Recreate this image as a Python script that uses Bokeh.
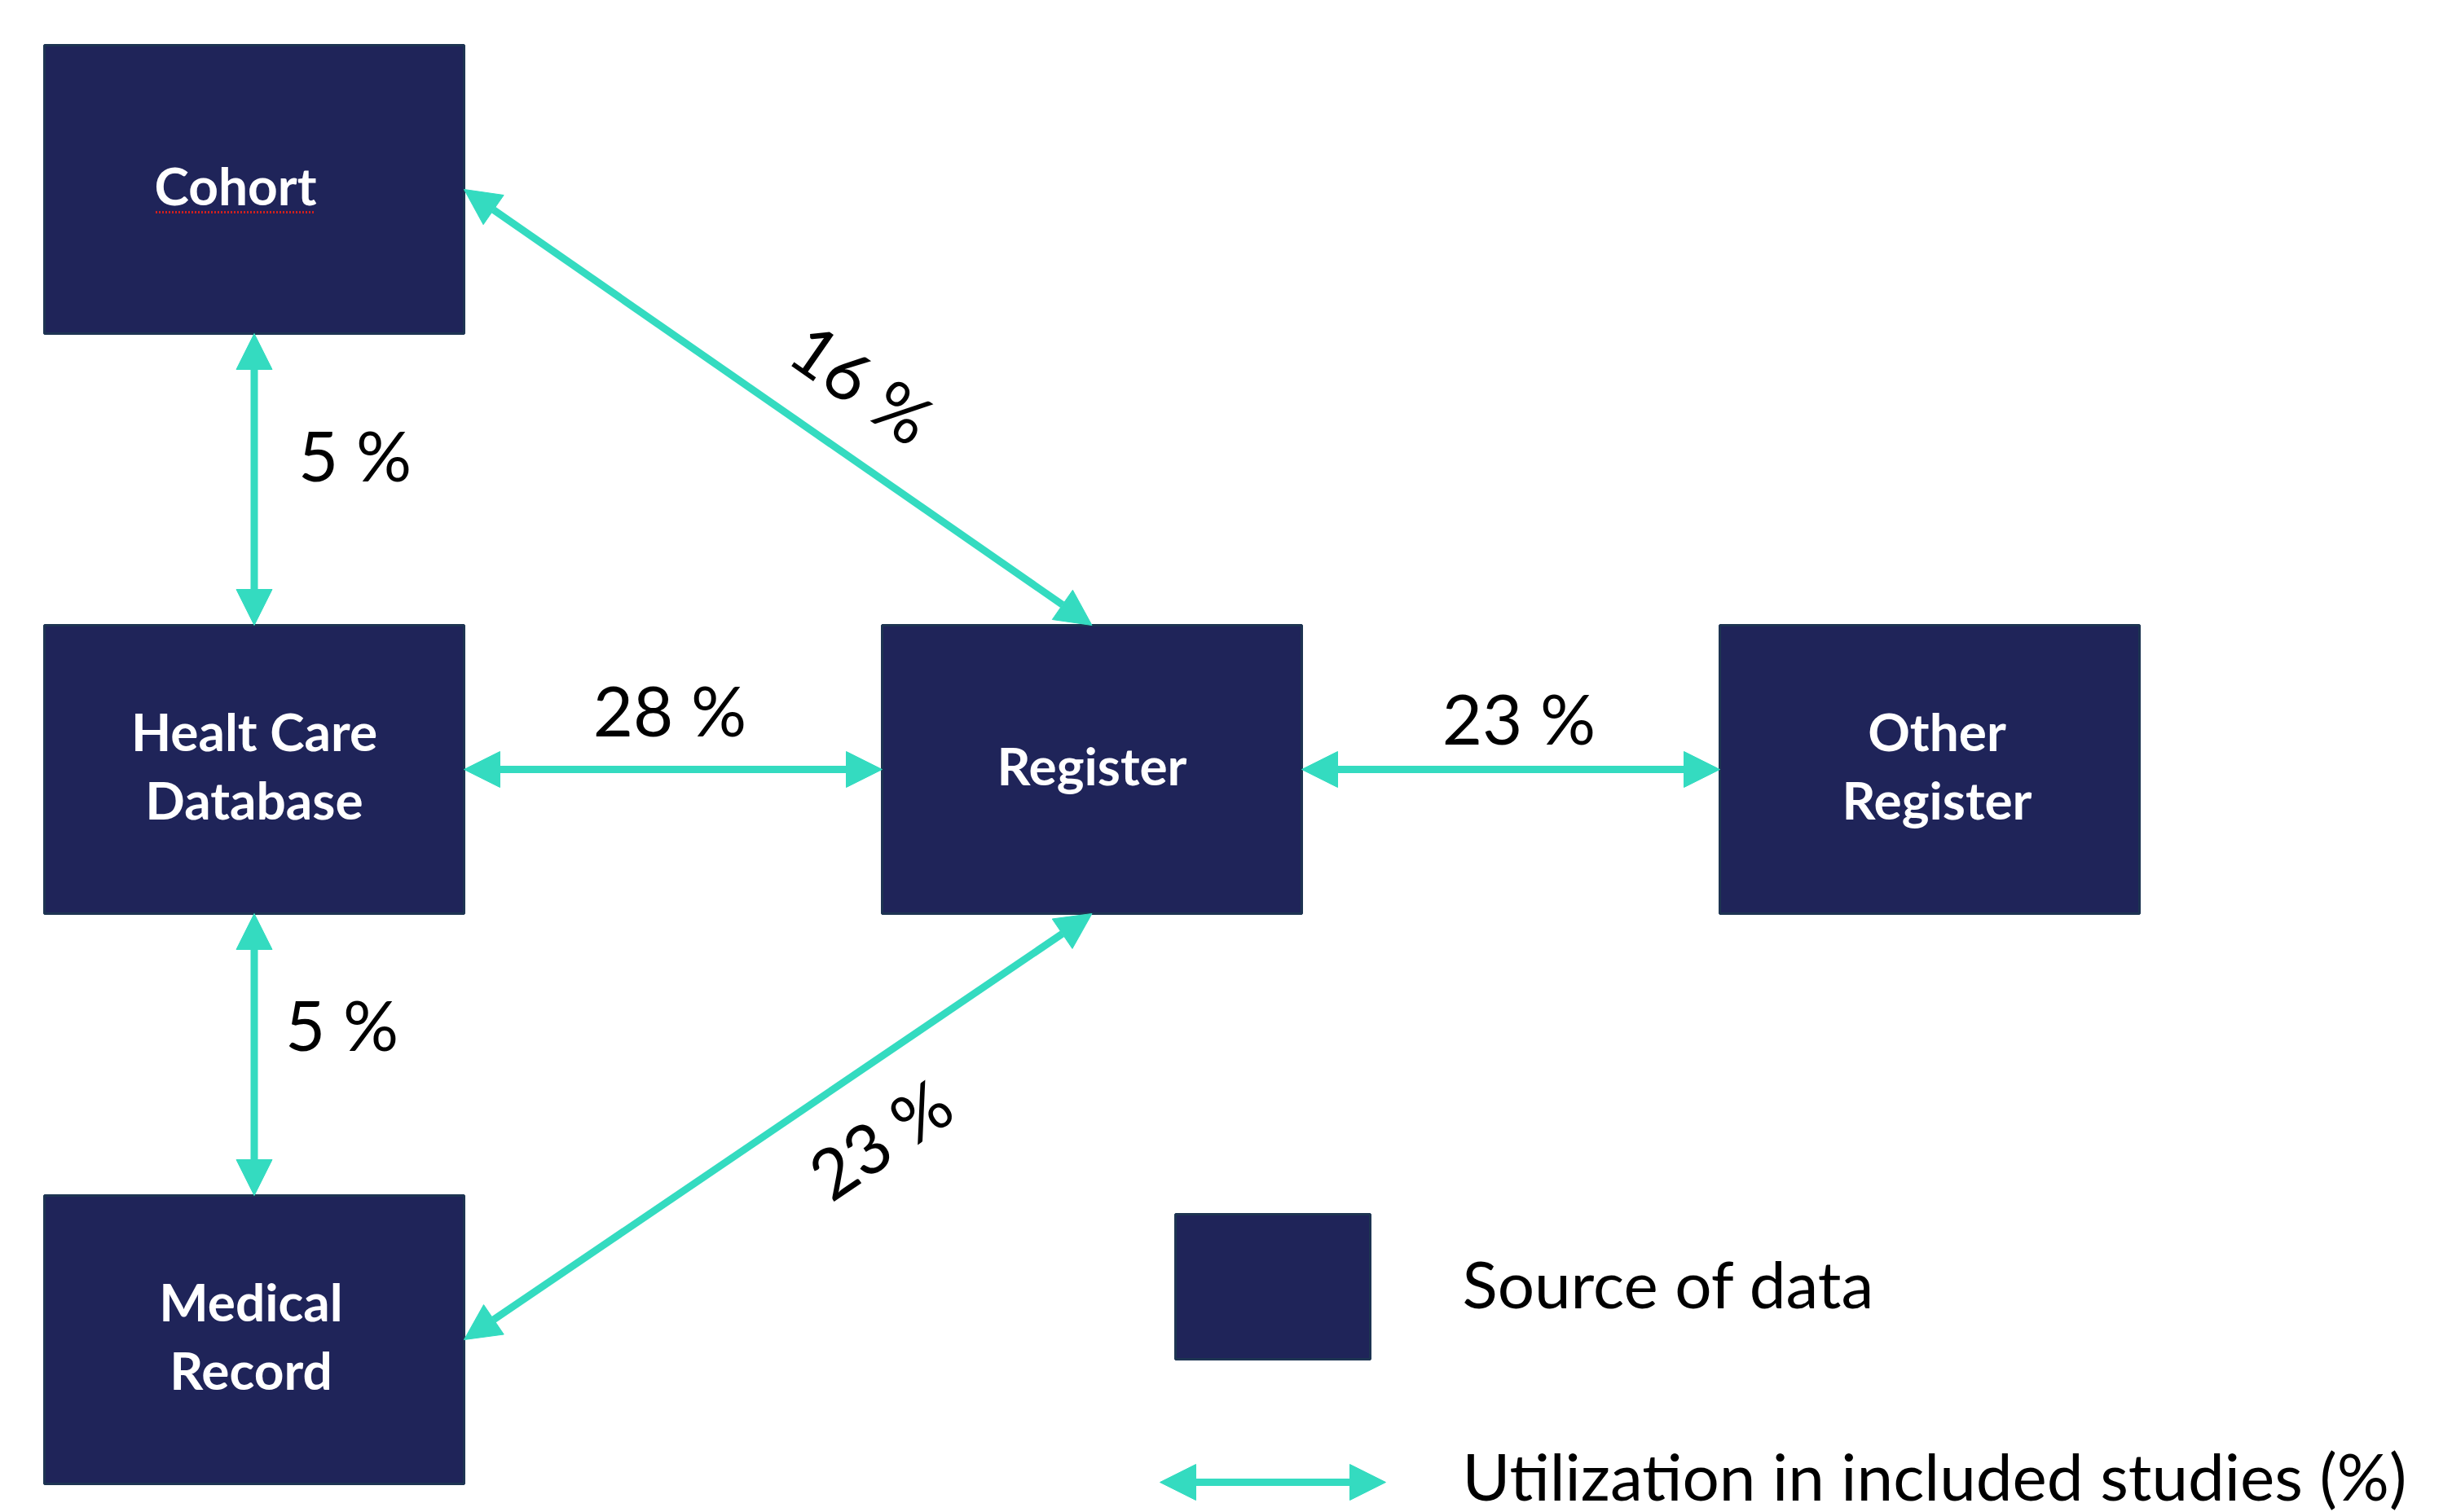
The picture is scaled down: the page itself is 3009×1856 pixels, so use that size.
import math
from bokeh.plotting import figure
from bokeh.models import Range1d, ColumnDataSource, Arrow, NormalHead
from bokeh.core.properties import value
from bokeh.embed import file_html
from bokeh.resources import INLINE

# ---------------- data ----------------
node_names = ["Cohort", "HCD", "Register", "Other", "Medical"]
node_labels = [["Cohort"], ["Healt Care", "Database"], ["Register"],
               ["Other", "Register"], ["Medical", "Record"]]
edge_from = ["Cohort", "Cohort", "HCD", "Register", "HCD", "Register"]
edge_to = ["HCD", "Register", "Register", "Other", "Medical", "Medical"]
edge_pct = [5, 16, 28, 23, 5, 23]
legend_labels = ["Source of data", "Utilization in included studies (%)"]

# ---------------- layout / style ----------------
BOX = "#1F2459"
BOX_EDGE = "#1D3452"
ARROW = "#34DBC0"
FONT = "Lato"

col_x = [311.5, 1339.5, 2367.5]
row_y = [232, 944, 1644]
box_w, box_h = 515, 354
node_cell = {"Cohort": (0, 0), "HCD": (0, 1), "Register": (1, 1),
             "Other": (2, 1), "Medical": (0, 2)}
label_dx = {"Cohort": -23, "HCD": 0, "Register": 0, "Other": 9, "Medical": -4}
edge_sides = [("b", "t"), ("r", "t"), ("r", "l"), ("r", "l"), ("b", "t"), ("b", "r")]
# label offsets from edge midpoint: dx, dy, align, rotate-with-line
edge_label = [(54, -31, "left", False), (104, -30, "center", True),
              (-4, -74, "center", False), (10, -64, "center", False),
              (38, -38, "left", False), (125, 14, "center", True)]


def center(n):
    c, r = node_cell[n]
    return col_x[c], row_y[r]


def anchor(n, side):
    cx, cy = center(n)
    return {"b": (cx, cy + box_h / 2), "t": (cx, cy - box_h / 2),
            "r": (cx + box_w / 2, cy), "l": (cx - box_w / 2, cy)}[side]


W, H = 3000, 1856
p = figure(width=W, height=H, output_backend="svg", toolbar_location=None,
           x_range=Range1d(0, W), y_range=Range1d(H, 0),
           min_border=0, outline_line_color=None, background_fill_color="white",
           border_fill_color="white")
p.axis.visible = False
p.grid.visible = False

# boxes
cxs = [center(n)[0] for n in node_names]
cys = [center(n)[1] for n in node_names]
p.rect(x=cxs, y=cys, width=box_w, height=box_h, fill_color=BOX,
       line_color=BOX_EDGE, line_width=3)

# box labels
tx, ty, tt = [], [], []
for n, lines in zip(node_names, node_labels):
    cx, cy = center(n)
    k = len(lines)
    for i, s in enumerate(lines):
        tx.append(cx + label_dx[n])
        ty.append(cy - 5 + (i - (k - 1) / 2) * 84)
        tt.append(s)
p.text(x=tx, y=ty, text=tt, text_color="white", text_font=value(FONT),
       text_font_style="bold", text_font_size=value("64px"),
       text_align="center", text_baseline="middle")

# spell-check underline under Cohort
cx0, cy0 = center("Cohort")
p.line(x=[cx0 - 121, cx0 + 75], y=[cy0 + 28, cy0 + 28], line_color="#D02020",
       line_width=3, line_dash="2 2")

# arrows
x0, y0, x1, y1 = [], [], [], []
for a, b, (sa, sb) in zip(edge_from, edge_to, edge_sides):
    pa = anchor(a, sa)
    pb = anchor(b, sb)
    x0.append(pa[0]); y0.append(pa[1]); x1.append(pb[0]); y1.append(pb[1])
src = ColumnDataSource(dict(x0=x0, y0=y0, x1=x1, y1=y1))


def head():
    return NormalHead(size=44, fill_color=ARROW, line_color=ARROW, line_width=1)


p.add_layout(Arrow(x_start="x0", y_start="y0", x_end="x1", y_end="y1", source=src,
                   start=head(), end=head(), line_color=ARROW, line_width=9))

# edge labels
for i, pct in enumerate(edge_pct):
    mx, my = (x0[i] + x1[i]) / 2, (y0[i] + y1[i]) / 2
    dx, dy, al, rot = edge_label[i]
    ang = 0.0
    if rot:
        ddx, ddy = x1[i] - x0[i], y1[i] - y0[i]
        if ddx < 0:
            ddx, ddy = -ddx, -ddy
        ang = -math.atan2(ddy, ddx)
    p.text(x=[mx + dx], y=[my + dy], text=[f"{pct} %"], angle=ang,
           text_color="#000000", text_font=value(FONT),
           text_font_size=value("85px"), text_align=al, text_baseline="middle")

# legend
p.quad(left=[1442], right=[1681], top=[1490], bottom=[1668], fill_color=BOX,
       line_color=BOX_EDGE, line_width=3)
lsrc = ColumnDataSource(dict(x0=[1423], y0=[1819], x1=[1700], y1=[1819]))
p.add_layout(Arrow(x_start="x0", y_start="y0", x_end="x1", y_end="y1", source=lsrc,
                   start=head(), end=head(), line_color=ARROW, line_width=9))
p.text(x=[1794, 1794], y=[1574, 1810], text=legend_labels, text_color="#000000",
       text_font=value(FONT), text_font_size=value("80px"),
       text_align="left", text_baseline="middle")

open("out.html", "w").write(file_html(p, INLINE))
